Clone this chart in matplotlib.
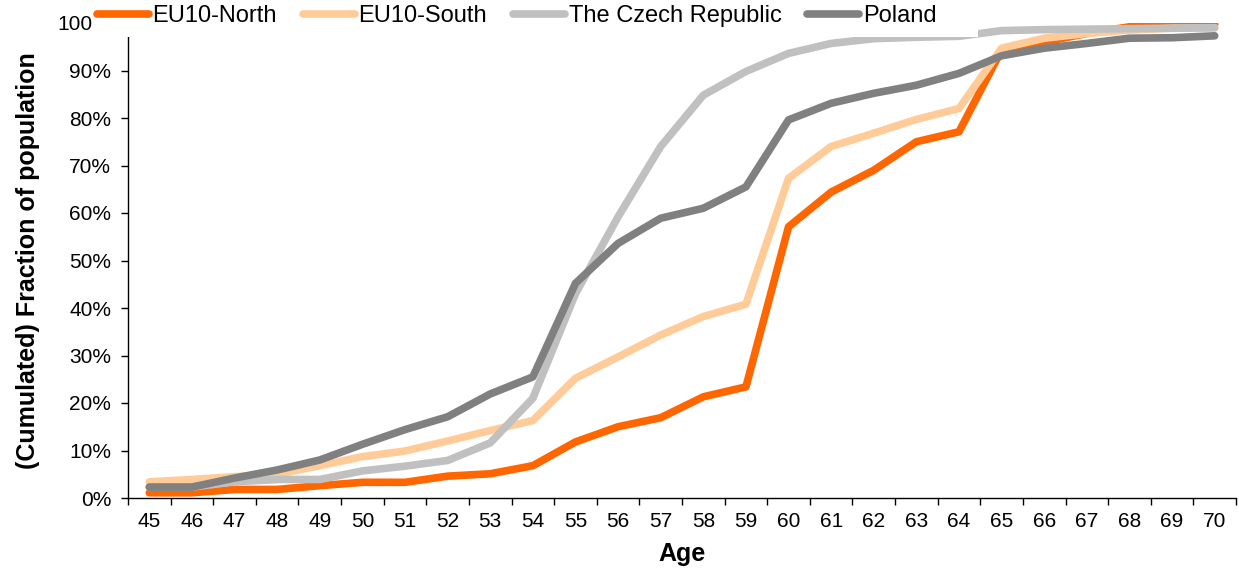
import matplotlib
matplotlib.use("Agg")
import matplotlib.pyplot as plt
from matplotlib.patches import Rectangle
from matplotlib.ticker import FixedLocator, PercentFormatter

plt.rcParams['font.family'] = ['Liberation Sans', 'DejaVu Sans']

ages = list(range(45, 71))
series_names = ["EU10-North", "EU10-South", "The Czech Republic", "Poland"]
eu10_north = [1.1, 1.1, 1.8, 1.8, 2.6, 3.3, 3.3, 4.6, 5.1, 6.8, 11.8, 15.0, 16.9, 21.3, 23.4,
              57.1, 64.4, 69.0, 75.0, 77.1, 94.3, 96.0, 97.8, 99.2, 99.6, 99.7]
eu10_south = [3.4, 3.9, 4.5, 5.0, 6.8, 8.7, 9.9, 12.0, 14.2, 16.3, 25.2, 29.7, 34.3, 38.2, 40.8,
              67.3, 74.0, 76.8, 79.7, 82.0, 94.7, 96.8, 97.8, 98.5, 98.9, 99.0]
czech = [2.3, 2.3, 3.4, 3.9, 3.9, 5.7, 6.7, 7.9, 11.6, 21.0, 43.0, 59.2, 74.0, 84.8, 89.8,
         93.6, 95.7, 96.7, 97.0, 97.2, 98.4, 98.6, 98.7, 98.8, 98.9, 99.0]
poland = [2.3, 2.3, 4.2, 5.9, 8.0, 11.3, 14.4, 17.1, 21.9, 25.5, 45.2, 53.6, 58.9, 61.0, 65.5,
          79.6, 83.1, 85.2, 86.9, 89.4, 93.1, 94.7, 95.7, 96.8, 96.9, 97.3]
colors = ["#FF6600", "#FFCC99", "#C0C0C0", "#808080"]

W, H = 1239, 570
fig = plt.figure(figsize=(W / 100, H / 100), dpi=100)
ax = fig.add_axes([128 / W, 72 / H, 1108 / W, 475 / H])

x = list(range(len(ages)))
lines = []
for name, vals, c in zip(series_names, [eu10_north, eu10_south, czech, poland], colors):
    ln, = ax.plot(x, [v / 100 for v in vals], color=c, lw=5.5, label=name,
                  solid_capstyle='round', solid_joinstyle='round')
    lines.append(ln)

ax.set_xlim(-0.5, len(ages) - 0.5)
ax.set_ylim(0, 1)
ax.set_xticks(x)
ax.set_xticklabels([str(a) for a in ages])
ax.xaxis.set_minor_locator(FixedLocator([i - 0.5 for i in range(len(ages) + 1)]))
ax.tick_params(axis='x', which='major', length=0, pad=10, labelsize=15)
ax.tick_params(axis='x', which='minor', length=5, width=1, direction='out', color='black')
ax.set_yticks([i / 10 for i in range(11)])
ax.yaxis.set_major_formatter(PercentFormatter(1.0, decimals=0))
ax.tick_params(axis='y', length=5, width=1, direction='out', pad=7, labelsize=15)

for s in ['top', 'right']:
    ax.spines[s].set_visible(False)
for s in ['left', 'bottom']:
    ax.spines[s].set_color('black')
    ax.spines[s].set_linewidth(1)

ax.set_xlabel("Age", fontsize=18, fontweight='bold', labelpad=8)
ax.set_ylabel("(Cumulated) Fraction of population", fontsize=18, fontweight='bold')
ax.yaxis.set_label_coords(-0.079, 0.5)

# white legend area covering the top of the plot
fig.add_artist(Rectangle((92 / W, 1 - 37 / H), (978 - 92) / W, 37 / H,
                         transform=fig.transFigure, facecolor='white',
                         edgecolor='none', zorder=5))
leg = fig.legend(handles=lines, labels=series_names, loc='center left',
                 bbox_to_anchor=(97 / W, 1 - 16 / H), ncol=4, frameon=False,
                 fontsize=17, handlelength=2.2, handletextpad=0.15,
                 columnspacing=1.1, borderpad=0, borderaxespad=0)
leg.set_zorder(6)

fig.savefig("out.png", dpi=100)
